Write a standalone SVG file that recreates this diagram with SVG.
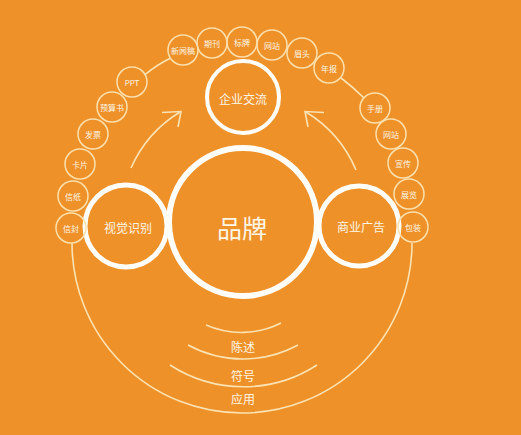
<svg xmlns="http://www.w3.org/2000/svg" width="521" height="435" viewBox="0 0 521 435">
<style>
.bg{fill:#EE9129}
.big{fill:none;stroke:#FFFDF8}
.sm{fill:none;stroke:#FCE0AE;stroke-width:1.5}
.ln{fill:none;stroke:#FCE3B4;stroke-width:1.6}
.t{font-family:"Noto Sans CJK SC","Noto Sans",sans-serif;fill:#FFF6E6;text-anchor:middle;dominant-baseline:central}
.s{font-size:8px}
.m{font-size:12px}
</style>
<rect class="bg" x="0" y="0" width="521" height="435"/>
<g id="connectors">
<path class="ln" d="M72,243 A170,170 0 0 0 412,243"/>
<path class="ln" d="M144.6,74.8 Q158,64 170.4,58.2"/>
<path class="ln" d="M341,78 Q353,87 364,98"/>
<path class="ln" d="M206,325 A88,88 0 0 0 281,323"/>
<path class="ln" d="M188,345 A115,115 0 0 0 298,345"/>
<path class="ln" d="M170,365 A135,135 0 0 0 317,365"/>
<path class="ln" d="M131,168 A125,125 0 0 1 180,112"/>
<path class="ln" d="M162,112.5 L181,111.5 L178,127"/>
<path class="ln" d="M356,170 A125,125 0 0 0 306,112"/>
<path class="ln" d="M324,112.5 L305,111.5 L308,127"/>
</g>
<g id="brand"><circle class="big" cx="243" cy="222" r="74" stroke-width="6"/><text class="t" x="242" y="227" font-size="25">品牌</text></g>
<g id="visual"><circle class="big" cx="126" cy="226" r="41" stroke-width="5"/><text class="t m" x="128" y="227">视觉识别</text></g>
<g id="ads"><circle class="big" cx="359" cy="226" r="40" stroke-width="5"/><text class="t m" x="361" y="226">商业广告</text></g>
<g id="corp"><circle class="big" cx="243" cy="97" r="36" stroke-width="4"/><text class="t m" x="243" y="98">企业交流</text></g>
<g id="label-chenshu"><text class="t m" x="243" y="346">陈述</text></g>
<g id="label-fuhao"><text class="t m" x="243" y="375">符号</text></g>
<g id="label-yingyong"><text class="t m" x="243" y="398">应用</text></g>
<g id="n-xinfeng"><circle class="sm" cx="71" cy="228" r="15"/><text class="t s" x="71" y="228">信封</text></g>
<g id="n-xinzhi"><circle class="sm" cx="73" cy="196" r="15"/><text class="t s" x="73" y="196">信纸</text></g>
<g id="n-kapian"><circle class="sm" cx="80" cy="164" r="15"/><text class="t s" x="80" y="164">卡片</text></g>
<g id="n-fapiao"><circle class="sm" cx="93" cy="134" r="15"/><text class="t s" x="93" y="134">发票</text></g>
<g id="n-yusuan"><circle class="sm" cx="112" cy="107" r="15"/><text class="t s" x="112" y="107">预算书</text></g>
<g id="n-ppt"><circle class="sm" cx="132" cy="82" r="15"/><text class="t s" x="132" y="82">PPT</text></g>
<g id="n-xinwen"><circle class="sm" cx="183" cy="50" r="15"/><text class="t s" x="183" y="50">新闻稿</text></g>
<g id="n-qikan"><circle class="sm" cx="212" cy="43" r="15"/><text class="t s" x="212" y="43">期刊</text></g>
<g id="n-biaopai"><circle class="sm" cx="242" cy="42" r="15"/><text class="t s" x="242" y="42">标牌</text></g>
<g id="n-wangzhan1"><circle class="sm" cx="272" cy="45" r="15"/><text class="t s" x="272" y="45">网站</text></g>
<g id="n-meitou"><circle class="sm" cx="302" cy="53" r="15"/><text class="t s" x="302" y="53">眉头</text></g>
<g id="n-nianbao"><circle class="sm" cx="329" cy="68" r="15"/><text class="t s" x="329" y="68">年报</text></g>
<g id="n-shouce"><circle class="sm" cx="375" cy="108" r="15"/><text class="t s" x="375" y="108">手册</text></g>
<g id="n-wangzhan2"><circle class="sm" cx="391" cy="134" r="15"/><text class="t s" x="391" y="134">网站</text></g>
<g id="n-xuanchuan"><circle class="sm" cx="403" cy="163" r="15"/><text class="t s" x="403" y="163">宣传</text></g>
<g id="n-zhanlan"><circle class="sm" cx="409" cy="194" r="15"/><text class="t s" x="409" y="194">展览</text></g>
<g id="n-baozhuang"><circle class="sm" cx="413" cy="227" r="15"/><text class="t s" x="413" y="227">包装</text></g>
</svg>
